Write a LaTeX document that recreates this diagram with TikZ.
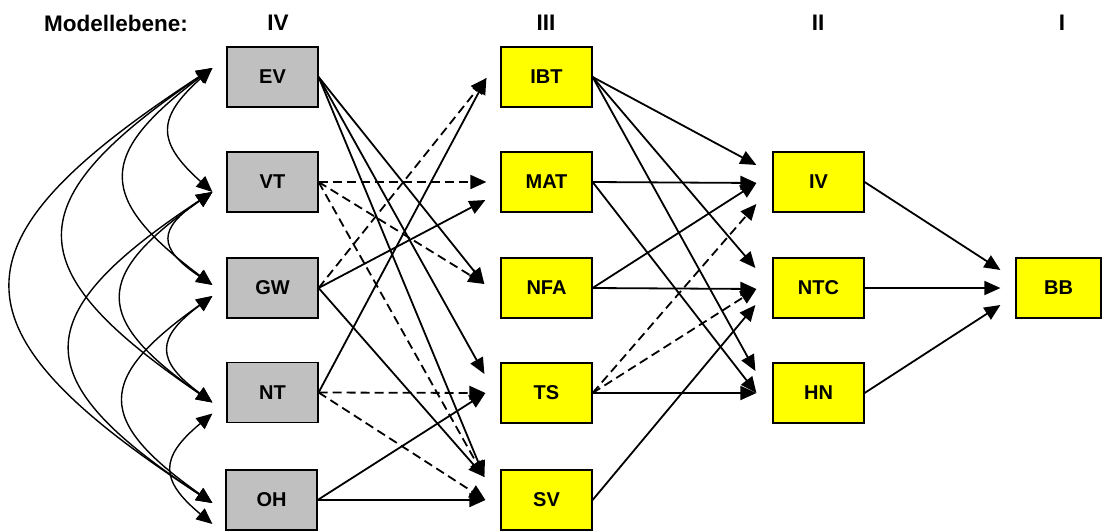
\documentclass[tikz,border=0pt]{standalone}
\usepackage{fontspec}
\setmainfont{Liberation Sans}
\usetikzlibrary{arrows.meta,calc}
\definecolor{boxgray}{HTML}{C0C0C0}
\definecolor{boxyellow}{HTML}{FFFF00}
\tikzset{
  box/.style={draw=black, line width=1.2pt, minimum width=91pt, minimum height=60pt,
    inner sep=0pt, font=\fontsize{20}{24}\selectfont\bfseries},
  exo/.style={box, fill=boxgray},
  endo/.style={box, fill=boxyellow},
  tipT/.tip={Triangle[length=16pt,width=14pt]},
  effect/.style={line width=1.8pt, -tipT},
  deffect/.style={effect, dash pattern=on 9pt off 5pt},
  cov/.style={line width=1.4pt, tipT-tipT},
  level/.style={font=\fontsize{22.5}{27}\selectfont\bfseries, inner sep=0pt}
}
\begin{document}
\begin{tikzpicture}[x=1pt,y=-1pt]
\useasboundingbox (0,0) rectangle (1102,530);
\clip (0,0) rectangle (1102,530);

% level headings
\node[level, anchor=east] (lvlname) at (188,23) {Modellebene:};
\node[level] (lvl4) at (278,23) {IV};
\node[level] (lvl3) at (546,23) {III};
\node[level] (lvl2) at (818,23) {II};
\node[level] (lvl1) at (1062,23) {I};

% level IV (exogenous)
\node[exo] (EV) at (272.5,77) {EV};
\node[exo] (VT) at (272.5,182) {VT};
\node[exo] (GW) at (272.5,288) {GW};
\node[exo] (NT) at (272.5,392.5) {NT};
\node[exo] (OH) at (271.5,500) {OH};

% level III
\node[endo] (IBT) at (546.5,77) {IBT};
\node[endo] (MAT) at (546.5,182) {MAT};
\node[endo] (NFA) at (546.5,288) {NFA};
\node[endo] (TS) at (546.5,393) {TS};
\node[endo] (SV) at (546.5,500) {SV};

% level II
\node[endo] (IVb) at (818.5,182) {IV};
\node[endo] (NTC) at (818.5,288) {NTC};
\node[endo] (HN) at (818.5,393) {HN};

% level I
\node[endo, minimum width=85pt] (BB) at (1058.5,288) {BB};

% arrow entry points in front of the boxes
\coordinate (IBTin)  at ($(IBT.west)+(-14,1)$);
\coordinate (MATinA) at ($(MAT.west)+(-14,0)$);
\coordinate (MATinB) at ($(MAT.west)+(-15,18)$);
\coordinate (NFAin)  at ($(NFA.west)+(-16,-4)$);
\coordinate (TSinA)  at ($(TS.west)+(-16,-19)$);
\coordinate (TSinB)  at ($(TS.west)+(-15,0)$);
\coordinate (SVinA)  at ($(SV.west)+(-16,-23)$);
\coordinate (SVinB)  at ($(SV.west)+(-15,0)$);

\coordinate (IVinA)  at ($(IVb.west)+(-16,-17)$);
\coordinate (IVinB)  at ($(IVb.west)+(-16,1)$);
\coordinate (IVinC)  at ($(IVb.west)+(-16,22)$);
\coordinate (NTCinA) at ($(NTC.west)+(-17,-20)$);
\coordinate (NTCinB) at ($(NTC.west)+(-16,1)$);
\coordinate (NTCinC) at ($(NTC.west)+(-17,17)$);
\coordinate (HNinA)  at ($(HN.west)+(-17,-22)$);
\coordinate (HNinB)  at ($(HN.west)+(-16,0)$);

\coordinate (BBinA)  at ($(BB.west)+(-15,-18)$);
\coordinate (BBinB)  at ($(BB.west)+(-15,0)$);
\coordinate (BBinC)  at ($(BB.west)+(-15,17)$);

\coordinate (EVl) at ($(EV.west)+(-14,-9)$);
\coordinate (VTl) at ($(VT.west)+(-14,10)$);
\coordinate (GWa) at ($(GW.west)+(-14,-3)$);
\coordinate (GWb) at ($(GW.west)+(-14,8)$);
\coordinate (NTa) at ($(NT.west)+(-14,10)$);
\coordinate (NTb) at ($(NT.west)+(-14,21)$);
\coordinate (OHa) at ($(OH.west)+(-13,3)$);
\coordinate (OHb) at ($(OH.west)+(-13,24)$);

% correlations among the level IV variables
\draw[cov] (EVl) .. controls +(-56,50)   and +(-56,-50)   .. (VTl);
\draw[cov] (EVl) .. controls +(-116,87)  and +(-116,-87)  .. (GWa);
\draw[cov] (EVl) .. controls +(-197,134) and +(-197,-134) .. (NTa);
\draw[cov] (EVl) .. controls +(-267,174) and +(-267,-174) .. (OHa);
\draw[cov] (VTl) .. controls +(-55,37)   and +(-55,-37)   .. (GWa);
\draw[cov] (VTl) .. controls +(-120,84)  and +(-120,-84)  .. (NTa);
\draw[cov] (VTl) .. controls +(-188,124) and +(-188,-124) .. (OHa);
\draw[cov] (GWb) .. controls +(-57,42)   and +(-57,-42)   .. (NTa);
\draw[cov] (GWb) .. controls +(-117,83)  and +(-117,-83)  .. (OHa);
\draw[cov] (NTb) .. controls +(-53,44)   and +(-53,-44)   .. (OHb);

% level IV -> level III
\draw[effect]  (EV.east) -- (NFAin);
\draw[effect]  (EV.east) -- (TSinA);
\draw[effect]  (EV.east) -- (SVinA);
\draw[deffect] (VT.east) -- (MATinA);
\draw[deffect] (VT.east) -- (NFAin);
\draw[deffect] (VT.east) -- (SVinA);
\draw[deffect] (GW.east) -- (IBTin);
\draw[effect]  (GW.east) -- (MATinB);
\draw[effect]  (GW.east) -- (SVinA);
\draw[effect]  (NT.east) -- (IBTin);
\draw[deffect] (NT.east) -- (TSinB);
\draw[deffect] (NT.east) -- (SVinB);
\draw[effect]  (OH.east) -- (TSinB);
\draw[effect]  (OH.east) -- (SVinB);

% level III -> level II
\draw[effect]  (IBT.east) -- (IVinA);
\draw[effect]  (IBT.east) -- (NTCinA);
\draw[effect]  (IBT.east) -- (HNinA);
\draw[effect]  (MAT.east) -- (IVinB);
\draw[effect]  (MAT.east) -- (HNinB);
\draw[effect]  (NFA.east) -- (IVinB);
\draw[effect]  (NFA.east) -- (NTCinB);
\draw[deffect] (TS.east) -- (IVinC);
\draw[deffect] (TS.east) -- (NTCinB);
\draw[effect]  (TS.east) -- (HNinB);
\draw[effect]  (SV.east) -- (NTCinC);

% level II -> level I
\draw[effect] (IVb.east) -- (BBinA);
\draw[effect] (NTC.east) -- (BBinB);
\draw[effect] (HN.east) -- (BBinC);
\end{tikzpicture}
\end{document}
